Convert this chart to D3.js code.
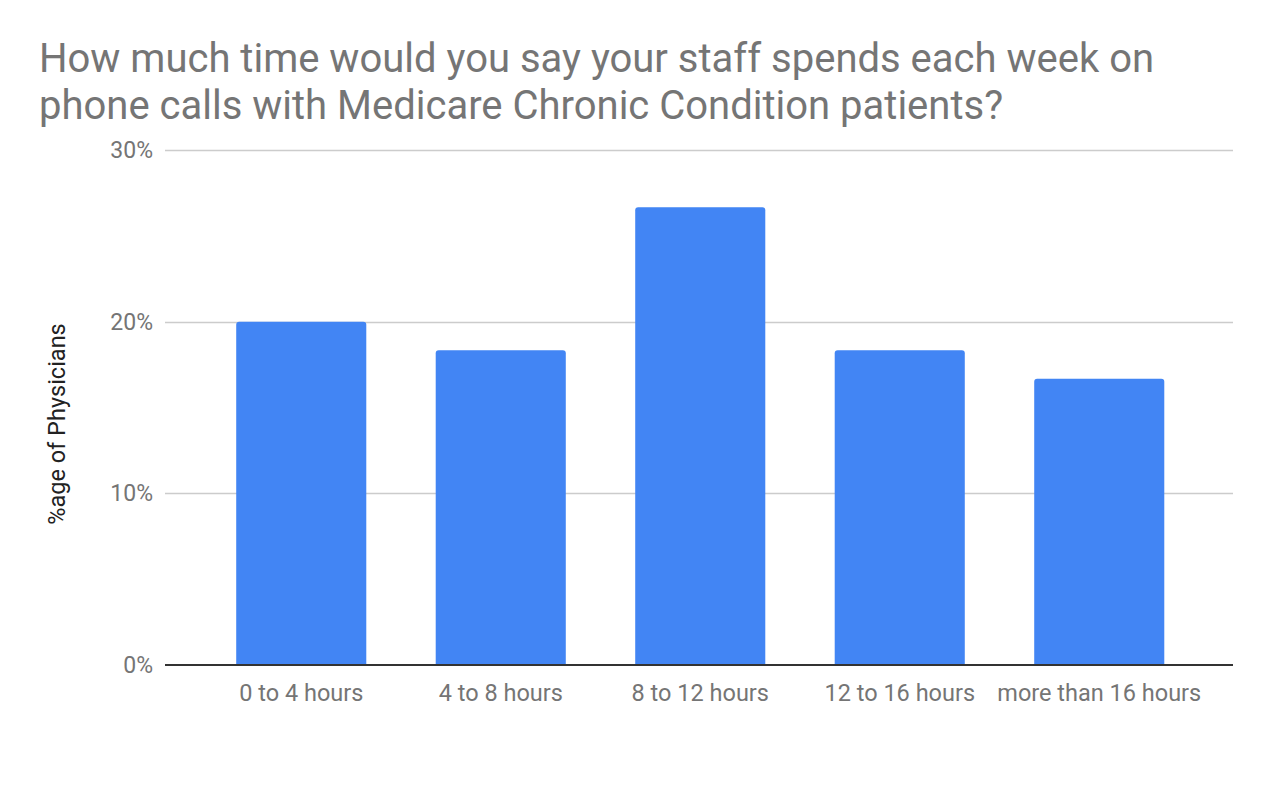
<!DOCTYPE html>
<html>
<head>
<meta charset="utf-8">
<script src="https://cdn.jsdelivr.net/npm/d3@7"></script>
<style>
  body { margin: 0; background: #fff; }
  text { font-family: Roboto, "Noto Sans", sans-serif; }
</style>
</head>
<body>
<svg id="chart" width="1272" height="786"></svg>
<script>
// data
const categories = ["0 to 4 hours", "4 to 8 hours", "8 to 12 hours", "12 to 16 hours", "more than 16 hours"];
const values = [0.2, 0.1833, 0.2667, 0.1833, 0.1667];
const yTicks = [0, 0.1, 0.2, 0.3];
const titleLines = [
  "How much time would you say your staff spends each week on",
  "phone calls with Medicare Chronic Condition patients?"
];
const yTitle = "%age of Physicians";

const svg = d3.select("#chart");

// plot area
const plot = { left: 165, right: 1233, top: 150, bottom: 665 };

const x = d3.scaleBand()
  .domain(categories)
  .range([201.5, 1199])
  .paddingInner(0.348)
  .paddingOuter(0.174);

const y = d3.scaleLinear()
  .domain([0, 0.3])
  .range([plot.bottom, plot.top]);

// title
svg.append("g")
  .selectAll("text")
  .data(titleLines)
  .join("text")
  .attr("x", 39)
  .attr("y", (d, i) => 72 + i * 47)
  .attr("font-size", 40)
  .attr("fill", "#757575")
  .text(d => d);

// gridlines
svg.append("g")
  .selectAll("line")
  .data(yTicks.filter(d => d > 0))
  .join("line")
  .attr("x1", plot.left)
  .attr("x2", plot.right)
  .attr("y1", d => Math.round(y(d)) + 0.5)
  .attr("y2", d => Math.round(y(d)) + 0.5)
  .attr("stroke", "#cccccc")
  .attr("stroke-width", 1.3);

// y tick labels
svg.append("g")
  .selectAll("text")
  .data(yTicks)
  .join("text")
  .attr("x", 153)
  .attr("y", d => y(d) + 8)
  .attr("text-anchor", "end")
  .attr("font-size", 23)
  .attr("fill", "#757575")
  .text(d3.format(".0%"));

// y axis title
svg.append("text")
  .attr("transform", "translate(65,424) rotate(-90)")
  .attr("text-anchor", "middle")
  .attr("font-size", 23.5)
  .attr("fill", "#222222")
  .text(yTitle);

// bars, slightly rounded top corners
const r = 3;
svg.append("g")
  .selectAll("path")
  .data(values)
  .join("path")
  .attr("fill", "#4285f4")
  .attr("d", (d, i) => {
    const x0 = x(categories[i]);
    const x1 = x0 + x.bandwidth();
    const y0 = y(d);
    const yb = y(0);
    return `M${x0},${yb}V${y0 + r}Q${x0},${y0} ${x0 + r},${y0}H${x1 - r}Q${x1},${y0} ${x1},${y0 + r}V${yb}Z`;
  });

// baseline
svg.append("line")
  .attr("x1", plot.left)
  .attr("x2", plot.right)
  .attr("y1", y(0))
  .attr("y2", y(0))
  .attr("stroke", "#333333")
  .attr("stroke-width", 2);

// x labels
svg.append("g")
  .selectAll("text")
  .data(categories)
  .join("text")
  .attr("x", d => x(d) + x.bandwidth() / 2)
  .attr("y", 701)
  .attr("text-anchor", "middle")
  .attr("font-size", 23.5)
  .attr("fill", "#757575")
  .text(d => d);
</script>
</body>
</html>
